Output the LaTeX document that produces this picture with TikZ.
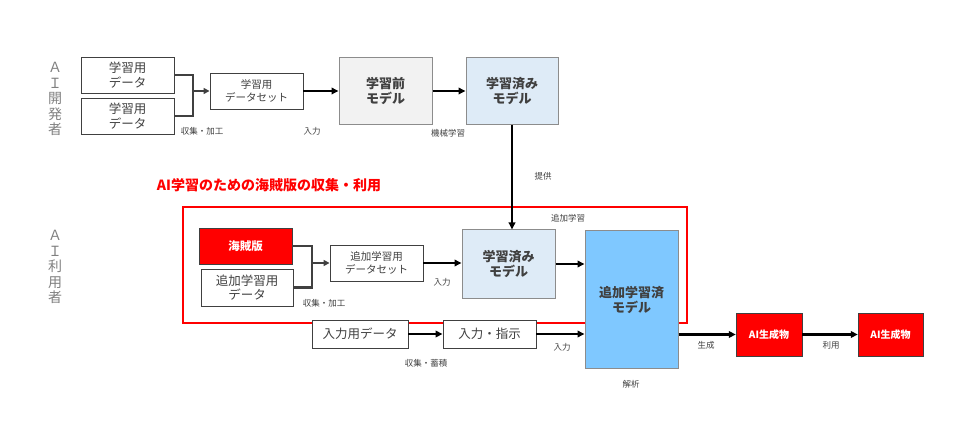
\documentclass[tikz,border=0pt]{standalone}
\usepackage{fontspec}
\setmainfont{Noto Sans CJK JP}
\usetikzlibrary{arrows.meta}

\definecolor{txtgray}{HTML}{404040}
\definecolor{boxgray}{HTML}{F2F2F2}
\definecolor{paleblue}{HTML}{DEEBF7}
\definecolor{skyblue}{HTML}{7FC8FF}
\definecolor{rimgray}{HTML}{8C8C8C}

\begin{document}
\begin{tikzpicture}[
    x=1pt, y=-1pt,
    every node/.append style={text=txtgray, align=center, inner sep=0},
    databox/.style={draw=txtgray, line width=0.9pt, fill=white, font=\fontsize{12.5}{14.5}\selectfont},
    modelbox/.style={draw=rimgray, line width=1pt, font=\bfseries\fontsize{13}{15}\selectfont},
    redbox/.style={draw=txtgray, fill=red, text=white, font=\bfseries\fontsize{10}{12}\selectfont},
    note/.style={font=\fontsize{8.5}{10}\selectfont},
    role/.style={font=\fontsize{14}{15.5}\selectfont, text=gray},
    feed/.style={draw=txtgray, line width=2.2pt, -{Triangle[length=6pt, width=6pt]}},
    flow/.style={draw=black, line width=2.2pt, -{Triangle[length=7pt, width=6.5pt]}},
  ]
  \useasboundingbox (0,0) rectangle (960,446);

  % roles
  \node[role] (dev) at (55,99) {Ａ\\Ｉ\\開\\発\\者};
  \node[role] (usr) at (55,267) {Ａ\\Ｉ\\利\\用\\者};

  % developer side
  \node[databox, minimum width=93pt, minimum height=36pt] (data1) at (127.5,75) {学習用\\データ};
  \node[databox, minimum width=93pt, minimum height=36pt] (data2) at (127.5,116) {学習用\\データ};
  \node[databox, minimum width=93pt, minimum height=36pt, font=\fontsize{10.5}{13.5}\selectfont] (set1) at (256.5,91) {学習用\\データセット};
  \node[modelbox, fill=boxgray, minimum width=93pt, minimum height=67pt] (pre) at (385.5,91) {学習前\\モデル};
  \node[modelbox, fill=paleblue, minimum width=92pt, minimum height=67pt] (done1) at (512,91) {学習済み\\モデル};

  \coordinate (join1) at (193,91);
  \draw[draw=txtgray, line width=2.2pt] (data1.east) -| (join1) |- (data2.east);
  \draw[feed] (join1) -- (set1.west);
  \draw[flow] (set1.east) -- (pre.west);
  \draw[flow] (pre.east) -- (done1.west);

  \node[note] (lbl1) at (202,131) {収集・加工};
  \node[note] (lbl2) at (312,131) {入力};
  \node[note] (lbl3) at (448,133) {機械学習};
  \node[note] (lbl4) at (543,176) {提供};

  % pirated copies
  \node[font=\bfseries\fontsize{14}{16}\selectfont, text=red] (title) at (269,185) {AI学習のための海賊版の収集・利用};
  \draw[red, line width=1.6pt] (183,207) rectangle (687,323);

  \node[redbox, minimum width=93pt, minimum height=36pt, font=\bfseries\fontsize{11.5}{13}\selectfont] (pirate) at (245.5,246) {海賊版};
  \node[databox, minimum width=92pt, minimum height=37pt] (extra) at (247,287.5) {追加学習用\\データ};
  \node[databox, minimum width=93pt, minimum height=36pt, font=\fontsize{10.5}{13.5}\selectfont] (set2) at (376.5,263) {追加学習用\\データセット};
  \node[modelbox, fill=paleblue, minimum width=93pt, minimum height=68pt] (done2) at (508.5,264) {学習済み\\モデル};
  \node[modelbox, fill=skyblue, minimum width=93pt, minimum height=137pt] (final) at (631.5,299.5) {追加学習済\\モデル};

  \coordinate (join2) at (312,263);
  \draw[draw=txtgray, line width=2.2pt] (pirate.east) -| (join2) |- (extra.east);
  \draw[feed] (join2) -- (set2.west);
  \draw[flow] (set2.east) -- (set2.east -| done2.west);
  \draw[flow] (done1.south) -- (done1.south |- done2.north);
  \draw[flow] (done2.east) -- (done2.east -| final.west);

  \node[note] (lbl5) at (324,303) {収集・加工};
  \node[note] (lbl6) at (442,282) {入力};
  \node[note] (lbl7) at (568,218) {追加学習};

  % usage
  \node[databox, minimum width=96pt, minimum height=28pt] (input) at (360,334) {入力用データ};
  \node[databox, minimum width=93pt, minimum height=28pt] (order) at (489.5,334) {入力・指示};
  \node[redbox, minimum width=66pt, minimum height=43pt] (out1) at (769,334.5) {AI生成物};
  \node[redbox, minimum width=65pt, minimum height=43pt] (out2) at (890.5,334.5) {AI生成物};

  \draw[flow] (input.east) -- (order.west);
  \draw[flow] (order.east) -- (order.east -| final.west);
  \draw[flow] (out1.west -| final.east) -- (out1.west);
  \draw[flow] (out1.east) -- (out2.west);

  \node[note] (lbl8) at (426,363) {収集・蓄積};
  \node[note] (lbl9) at (562,347) {入力};
  \node[note] (lbl10) at (631,384) {解析};
  \node[note] (lbl11) at (706,345) {生成};
  \node[note] (lbl12) at (831,345) {利用};
\end{tikzpicture}
\end{document}
